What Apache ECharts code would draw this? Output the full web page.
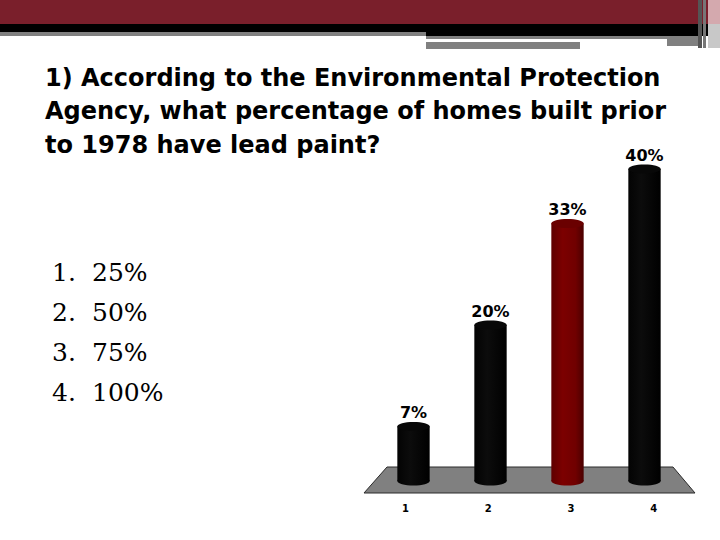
<!DOCTYPE html>
<html>
<head>
<meta charset="utf-8">
<script src="https://cdn.jsdelivr.net/npm/echarts@6/dist/echarts.min.js"></script>
<style>
html,body{margin:0;padding:0;background:#fff;}
#chart{width:720px;height:540px;}
</style>
</head>
<body>
<div id="chart"></div>
<script>
// ---- data ----
var categories = ['1', '2', '3', '4'];
var values = [7, 20, 33, 40];
var barColors = ['black', 'black', 'red', 'black'];
var questionLines = [
  '1) According to the Environmental Protection',
  'Agency, what percentage of homes built prior',
  'to 1978 have lead paint?'
];
var optionNumbers = ['1.', '2.', '3.', '4.'];
var optionTexts = ['25%', '50%', '75%', '100%'];

var chart = echarts.init(document.getElementById('chart'), null, {renderer: 'svg'});

function cylinder(params, api) {
  var idx = api.value(0);
  var val = api.value(1);
  var top = api.coord([idx, val]);
  var base = api.coord([idx, 0]);
  var w = api.size([1, 0])[0] * 0.42;
  var cx = top[0];
  var rx = w / 2, ry = 4.5;
  var isRed = barColors[params.dataIndex] === 'red';
  var fill = isRed ?
    new echarts.graphic.LinearGradient(0, 0, 1, 0, [
      {offset: 0, color: '#5e0000'}, {offset: 0.35, color: '#7c0000'},
      {offset: 0.75, color: '#700000'}, {offset: 1, color: '#4a0000'}]) :
    new echarts.graphic.LinearGradient(0, 0, 1, 0, [
      {offset: 0, color: '#030303'}, {offset: 0.4, color: '#0c0c0c'},
      {offset: 1, color: '#000000'}]);
  return {
    type: 'group',
    children: [
      {type: 'ellipse', shape: {cx: cx, cy: base[1], rx: rx, ry: ry}, style: {fill: fill}},
      {type: 'rect', shape: {x: cx - rx, y: top[1], width: w, height: base[1] - top[1]}, style: {fill: fill}},
      {type: 'ellipse', shape: {cx: cx, cy: top[1], rx: rx, ry: ry}, style: {fill: isRed ? '#6a0000' : '#080808'}},
      {type: 'text', style: {text: val + '%', x: cx, y: top[1] - 6, align: 'center', verticalAlign: 'bottom',
        font: 'bold 16px "DejaVu Sans"', fill: '#000'}}
    ]
  };
}

function floor(params, api) {
  var cs = params.coordSys;
  return {
    type: 'polygon',
    shape: {points: [[cs.x + 23, cs.y], [cs.x + cs.width - 22, cs.y], [cs.x + cs.width, cs.y + cs.height], [cs.x, cs.y + cs.height]]},
    style: {fill: '#808080', stroke: '#2a2a2a', lineWidth: 1}
  };
}

var option = {
  backgroundColor: '#ffffff',
  animation: false,
  title: [
    {text: questionLines.join('\n'), left: 40, top: 56,
     textStyle: {fontFamily: 'DejaVu Sans', fontWeight: 'bold', fontSize: 24, lineHeight: 33.5, color: '#000'}},
    {text: optionNumbers.join('\n'), left: 47, top: 247,
     textStyle: {fontFamily: 'DejaVu Serif', fontWeight: 'normal', fontSize: 25, lineHeight: 40, color: '#000'}},
    {text: optionTexts.join('\n'), left: 87, top: 247,
     textStyle: {fontFamily: 'DejaVu Serif', fontWeight: 'normal', fontSize: 25, lineHeight: 40, color: '#000'}}
  ],
  graphic: [
    {type: 'rect', shape: {x: 0, y: 0, width: 720, height: 24}, style: {fill: '#7a1f2b'}, z: 10},
    {type: 'rect', shape: {x: 0, y: 24, width: 720, height: 8}, style: {fill: '#000'}, z: 10},
    {type: 'rect', shape: {x: 426, y: 32, width: 294, height: 4}, style: {fill: '#000'}, z: 10},
    {type: 'rect', shape: {x: 0, y: 32, width: 426, height: 4}, style: {fill: '#808080'}, z: 10},
    {type: 'rect', shape: {x: 426, y: 36, width: 241, height: 3}, style: {fill: '#808080'}, z: 10},
    {type: 'rect', shape: {x: 426, y: 42, width: 154, height: 7}, style: {fill: '#808080'}, z: 10},
    {type: 'rect', shape: {x: 667, y: 36, width: 31, height: 10}, style: {fill: '#808080'}, z: 10},
    {type: 'rect', shape: {x: 698, y: 0, width: 4, height: 48}, style: {fill: '#555'}, z: 10},
    {type: 'rect', shape: {x: 703, y: 0, width: 3, height: 48}, style: {fill: '#777'}, z: 10},
    {type: 'rect', shape: {x: 708, y: 0, width: 12, height: 24}, style: {fill: '#d4a9ae'}, z: 10},
    {type: 'rect', shape: {x: 708, y: 24, width: 12, height: 24}, style: {fill: '#c8c8c8'}, z: 10}
  ],
  grid: [
    {left: 375, right: 37, top: 91, bottom: 59},
    {left: 364, right: 25, top: 467, bottom: 47}
  ],
  xAxis: [
    {type: 'category', data: categories, gridIndex: 0, show: false},
    {type: 'category', data: categories, gridIndex: 1,
     axisLine: {show: false}, axisTick: {show: false},
     axisLabel: {margin: 10, fontFamily: 'DejaVu Sans', fontWeight: 'bold', fontSize: 10, color: '#000'}}
  ],
  yAxis: [
    {type: 'value', min: 0, max: 50, gridIndex: 0, show: false},
    {type: 'value', min: 0, max: 1, gridIndex: 1, show: false}
  ],
  series: [
    {type: 'custom', xAxisIndex: 1, yAxisIndex: 1, renderItem: floor, data: [[0, 0]], z: 1, silent: true},
    {type: 'custom', xAxisIndex: 0, yAxisIndex: 0, renderItem: cylinder, z: 3,
     data: values.map(function (v, i) { return [i, v]; })}
  ]
};
chart.setOption(option);
</script>
</body>
</html>
